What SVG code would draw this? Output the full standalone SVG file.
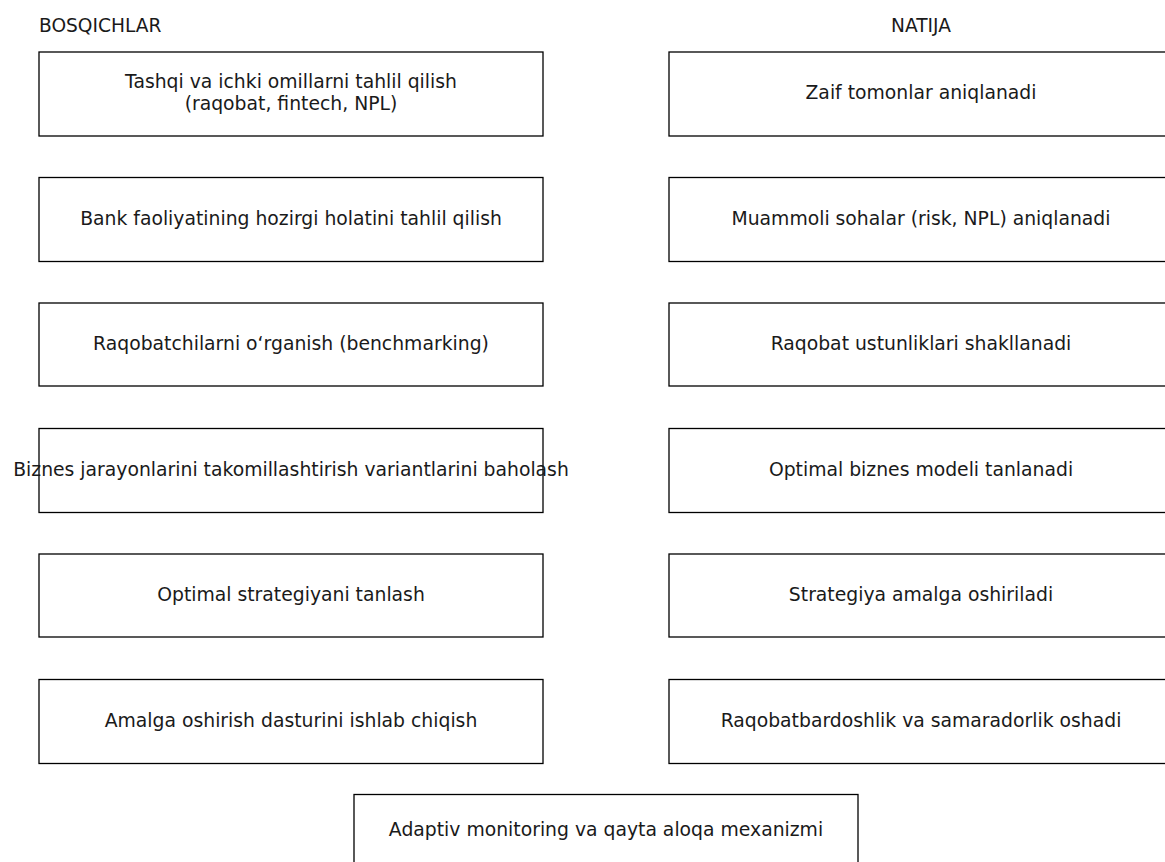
<svg xmlns="http://www.w3.org/2000/svg" width="1165" height="862" viewBox="0 0 1165 862">
<style>
.box{fill:#fff;stroke:#000;stroke-width:1.3}
.t{font-family:"DejaVu Sans",sans-serif;font-size:18.8px;fill:#1a1a1a;text-anchor:middle}
.h{font-family:"DejaVu Sans",sans-serif;font-size:18.6px;fill:#1a1a1a}
</style>
<rect width="1165" height="862" fill="#fff"/>
<text class="h" x="39" y="31.5">BOSQICHLAR</text>
<text class="h" x="921" y="31.5" text-anchor="middle">NATIJA</text>
<g id="connectors"></g>
<g id="s1"><rect class="box" x="39" y="52" width="504" height="84"/><text class="t" x="291" y="88">Tashqi va ichki omillarni tahlil qilish</text><text class="t" x="291" y="110">(raqobat, fintech, NPL)</text></g>
<g id="s2"><rect class="box" x="39" y="177.5" width="504" height="84"/><text class="t" x="291" y="224.5">Bank faoliyatining hozirgi holatini tahlil qilish</text></g>
<g id="s3"><rect class="box" x="39" y="303" width="504" height="83"/><text class="t" x="291" y="350">Raqobatchilarni o‘rganish (benchmarking)</text></g>
<g id="s4"><rect class="box" x="39" y="428.5" width="504" height="84"/><text class="t" x="291" y="475.5">Biznes jarayonlarini takomillashtirish variantlarini baholash</text></g>
<g id="s5"><rect class="box" x="39" y="554" width="504" height="83"/><text class="t" x="291" y="601">Optimal strategiyani tanlash</text></g>
<g id="s6"><rect class="box" x="39" y="679.5" width="504" height="84"/><text class="t" x="291" y="726.5">Amalga oshirish dasturini ishlab chiqish</text></g>
<g id="r1"><rect class="box" x="669" y="52" width="504" height="84"/><text class="t" x="921" y="99">Zaif tomonlar aniqlanadi</text></g>
<g id="r2"><rect class="box" x="669" y="177.5" width="504" height="84"/><text class="t" x="921" y="224.5">Muammoli sohalar (risk, NPL) aniqlanadi</text></g>
<g id="r3"><rect class="box" x="669" y="303" width="504" height="83"/><text class="t" x="921" y="350">Raqobat ustunliklari shakllanadi</text></g>
<g id="r4"><rect class="box" x="669" y="428.5" width="504" height="84"/><text class="t" x="921" y="475.5">Optimal biznes modeli tanlanadi</text></g>
<g id="r5"><rect class="box" x="669" y="554" width="504" height="83"/><text class="t" x="921" y="601">Strategiya amalga oshiriladi</text></g>
<g id="r6"><rect class="box" x="669" y="679.5" width="504" height="84"/><text class="t" x="921" y="726.5">Raqobatbardoshlik va samaradorlik oshadi</text></g>
<g id="m"><rect class="box" x="354" y="794.5" width="504" height="84"/><text class="t" x="606" y="835.5">Adaptiv monitoring va qayta aloqa mexanizmi</text></g>
</svg>
